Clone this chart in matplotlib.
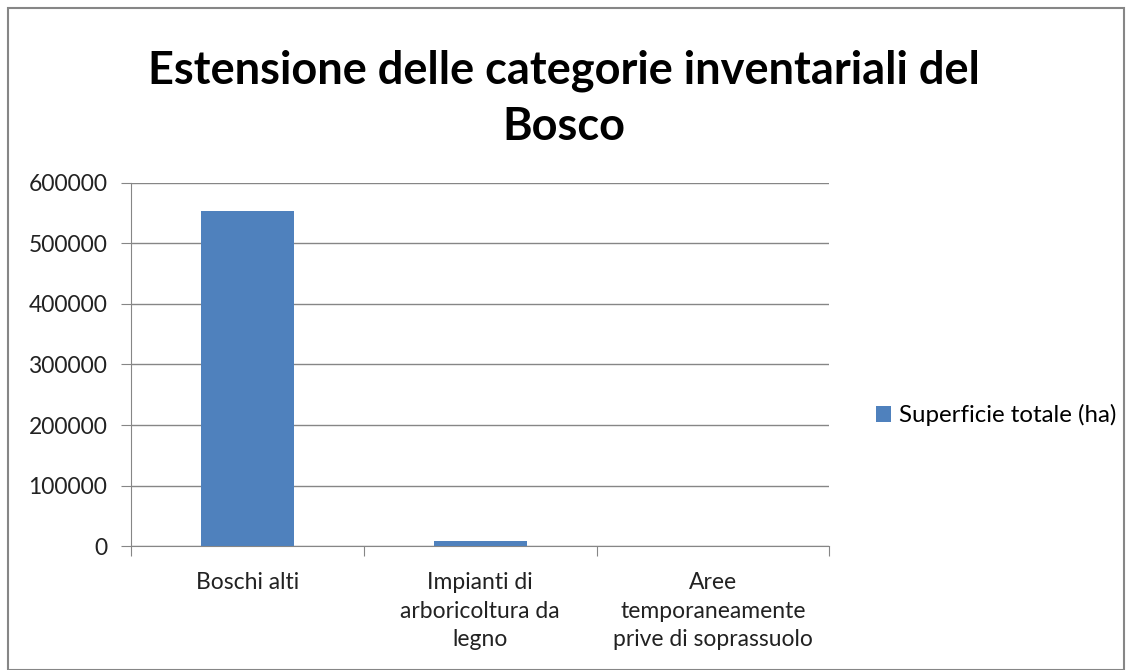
import matplotlib
matplotlib.use("Agg")
import matplotlib.pyplot as plt
from matplotlib.patches import Rectangle

# data
categories = ["Boschi alti", "Impianti di\narboricoltura da\nlegno", "Aree\ntemporaneamente\nprive di soprassuolo"]
values = [553500, 8400, 300]
series_name = "Superficie totale (ha)"
yticks = [0, 100000, 200000, 300000, 400000, 500000, 600000]

plt.rcParams['font.family'] = ['Lato', 'DejaVu Sans']

fig = plt.figure(figsize=(11.32, 6.70), dpi=100)
ax = fig.add_axes([0.1157, 0.185, 0.617, 0.542])

x = range(len(categories))
ax.bar(x, values, width=0.4, color="#4f81bd", label=series_name, zorder=3)

ax.set_xlim(-0.5, len(categories) - 0.5)
ax.set_ylim(0, 600000)
ax.set_yticks(yticks)
ax.set_yticklabels([str(v) for v in yticks], fontsize=16.5, color="#222222")
ax.set_xticks([i + 0.5 for i in range(-1, len(categories))], minor=False)
ax.set_xticklabels([])
ax.set_xticks(list(x), minor=True)
ax.set_xticklabels(categories, minor=True, fontsize=16.5, color="#222222", linespacing=1.42)
ax.tick_params(axis="x", which="minor", length=0, pad=19)
ax.tick_params(axis="x", which="major", length=7, color="#868686", direction="out")
ax.tick_params(axis="y", length=7, color="#868686", direction="out", pad=10)
for lbl in ax.get_xticklabels(minor=True):
    lbl.set_verticalalignment("top")

ax.grid(axis="y", color="#868686", linewidth=1, zorder=0)
for s in ["top", "right"]:
    ax.spines[s].set_visible(False)
ax.spines["left"].set_color("#868686")
ax.spines["bottom"].set_color("#868686")

fig.text(0.4985, 0.853, "Estensione delle categorie inventariali del\nBosco", ha="center", va="center",
         fontsize=32.5, fontweight="bold", linespacing=1.4)

ax.legend(loc="center left", bbox_to_anchor=(1.0, 0.36), frameon=False, fontsize=17.3,
          handlelength=0.6, handleheight=0.6, handletextpad=0.35, borderaxespad=1.55)

fig.patches.append(Rectangle((0.007, 0.0), 0.986, 0.988, transform=fig.transFigure,
                             fill=False, edgecolor="#868686", linewidth=1.5))

fig.savefig("out.png", dpi=100)
